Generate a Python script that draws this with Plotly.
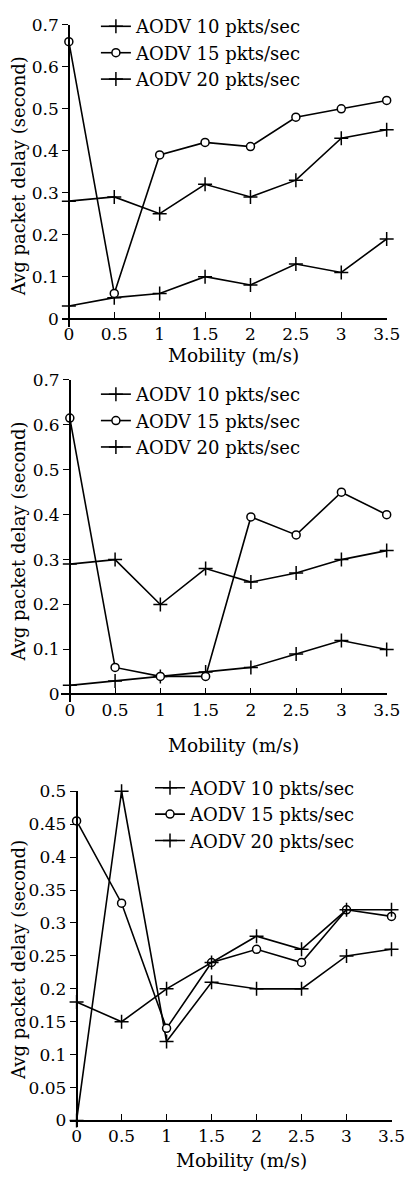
import plotly.graph_objects as go

# page is 420x1182; the html body has an 8px margin, so the figure is sized to fit without scrolling
PAGE_W, PAGE_H = 420, 1182
OFF = 8
W, H = PAGE_W - OFF, PAGE_H - 2 * OFF - 2

mobility = [0, 0.5, 1, 1.5, 2, 2.5, 3, 3.5]
series_names = ["AODV 10 pkts/sec", "AODV 15 pkts/sec", "AODV 20 pkts/sec"]

# Chart 1
c1_10 = [0.03, 0.05, 0.06, 0.10, 0.08, 0.13, 0.11, 0.19]
c1_15 = [0.66, 0.06, 0.39, 0.42, 0.41, 0.48, 0.50, 0.52]
c1_20 = [0.28, 0.29, 0.25, 0.32, 0.29, 0.33, 0.43, 0.45]
# Chart 2
c2_10 = [0.02, 0.03, 0.04, 0.05, 0.06, 0.09, 0.12, 0.10]
c2_15 = [0.615, 0.06, 0.04, 0.04, 0.395, 0.355, 0.45, 0.40]
c2_20 = [0.29, 0.30, 0.20, 0.28, 0.25, 0.27, 0.30, 0.32]
# Chart 3
c3_10 = [0.0, 0.50, 0.12, 0.21, 0.20, 0.20, 0.25, 0.26]
c3_15 = [0.455, 0.33, 0.14, 0.24, 0.26, 0.24, 0.32, 0.31]
c3_20 = [0.18, 0.15, 0.20, 0.24, 0.28, 0.26, 0.32, 0.32]

x_ticks = [0, 0.5, 1, 1.5, 2, 2.5, 3, 3.5]
x_ticklabels = ["0", "0.5", "1", "1.5", "2", "2.5", "3", "3.5"]
y12_ticks = [0, 0.1, 0.2, 0.3, 0.4, 0.5, 0.6, 0.7]
y12_ticklabels = ["0", "0.1", "0.2", "0.3", "0.4", "0.5", "0.6", "0.7"]
y3_ticks = [0, 0.05, 0.1, 0.15, 0.2, 0.25, 0.3, 0.35, 0.4, 0.45, 0.5]
y3_ticklabels = ["0", "0.05", "0.1", "0.15", "0.2", "0.25", "0.3", "0.35", "0.4", "0.45", "0.5"]

FONT = "DejaVu Serif, Liberation Serif, serif"

def px(p):
    return (p - OFF) / W

def py(p):
    return 1 - (p - OFF) / H

panels = [
    dict(x0=71, x1=400, xl=64, y0=312, y1=15, ytop=0.7, yb=320,
         data=[c1_10, c1_15, c1_20], yt=y12_ticks, ytl=y12_ticklabels,
         leg=(99, -2), xt=(241, 349)),
    dict(x0=72, x1=400, xl=63, y0=692, y1=374, ytop=0.7, yb=700,
         data=[c2_10, c2_15, c2_20], yt=y12_ticks, ytl=y12_ticklabels,
         leg=(99, 370), xt=(241, 744)),
    dict(x0=79, x1=405, xl=72, y0=1123, y1=790, ytop=0.5, yb=1130,
         data=[c3_10, c3_15, c3_20], yt=y3_ticks, ytl=y3_ticklabels,
         leg=(155, 768), xt=(250, 1163)),
]

symbols = ["cross-thin-open", "circle", "cross-thin-open"]
sizes = [10, 8, 10]
fills = ["black", "white", "black"]

fig = go.Figure()
layout = dict(
    width=W, height=H,
    margin=dict(l=0, r=0, t=0, b=0),
    paper_bgcolor="white", plot_bgcolor="white",
    font=dict(family=FONT, size=17, color="black"),
    showlegend=True,
)
annotations = []

for i, p in enumerate(panels, start=1):
    sfx = "" if i == 1 else str(i)
    xunit = (p["x1"] - p["x0"]) / 3.5
    yunit = (p["y0"] - p["y1"]) / p["ytop"]
    xmin = -(p["x0"] - p["xl"]) / xunit
    ymin = -(p["yb"] - p["y0"]) / yunit
    legname = "legend" if i == 1 else f"legend{i}"
    for k in range(3):
        fig.add_trace(go.Scatter(
            x=mobility, y=p["data"][k], name=series_names[k],
            mode="lines+markers",
            line=dict(color="black", width=1.6),
            marker=dict(symbol=symbols[k], size=sizes[k], color=fills[k],
                        line=dict(color="black", width=1.5)),
            xaxis="x" + sfx, yaxis="y" + sfx, legend=legname,
            cliponaxis=False,
        ))
    layout["xaxis" + sfx] = dict(
        domain=[px(p["xl"]), min(1.0, px(p["x1"]))], range=[xmin, 3.5],
        anchor="free", position=py(p["y0"]),
        tickvals=x_ticks, ticktext=x_ticklabels,
        ticks="inside", ticklen=6, tickwidth=1.3, tickcolor="black",
        showline=True, linecolor="black", linewidth=1.5,
        showgrid=False, zeroline=False,
        tickfont=dict(size=17),
    )
    layout["yaxis" + sfx] = dict(
        domain=[py(p["yb"]), py(p["y1"])], range=[ymin, p["ytop"]],
        anchor="free", position=px(p["x0"]),
        tickvals=p["yt"], ticktext=p["ytl"],
        ticks="outside", ticklen=6, tickwidth=1.3, tickcolor="black",
        showline=True, linecolor="black", linewidth=1.5,
        showgrid=False, zeroline=False,
        tickfont=dict(size=17),
        title=dict(text="Avg packet delay (second)", font=dict(size=18), standoff=2),
    )
    layout[legname] = dict(
        x=px(p["leg"][0]), y=py(p["leg"][1]), xanchor="left", yanchor="top",
        bgcolor="rgba(0,0,0,0)", font=dict(size=18, family=FONT),
        tracegroupgap=0, borderwidth=0,
    )
    annotations.append(dict(
        text="Mobility (m/s)", xref="paper", yref="paper",
        x=px(p["xt"][0]), y=py(p["xt"][1]), xanchor="center", yanchor="middle",
        showarrow=False, font=dict(size=18.5, family=FONT, color="black"),
    ))

layout["annotations"] = annotations
fig.update_layout(**layout)
fig.write_html("out.html", config={"displayModeBar": False})
